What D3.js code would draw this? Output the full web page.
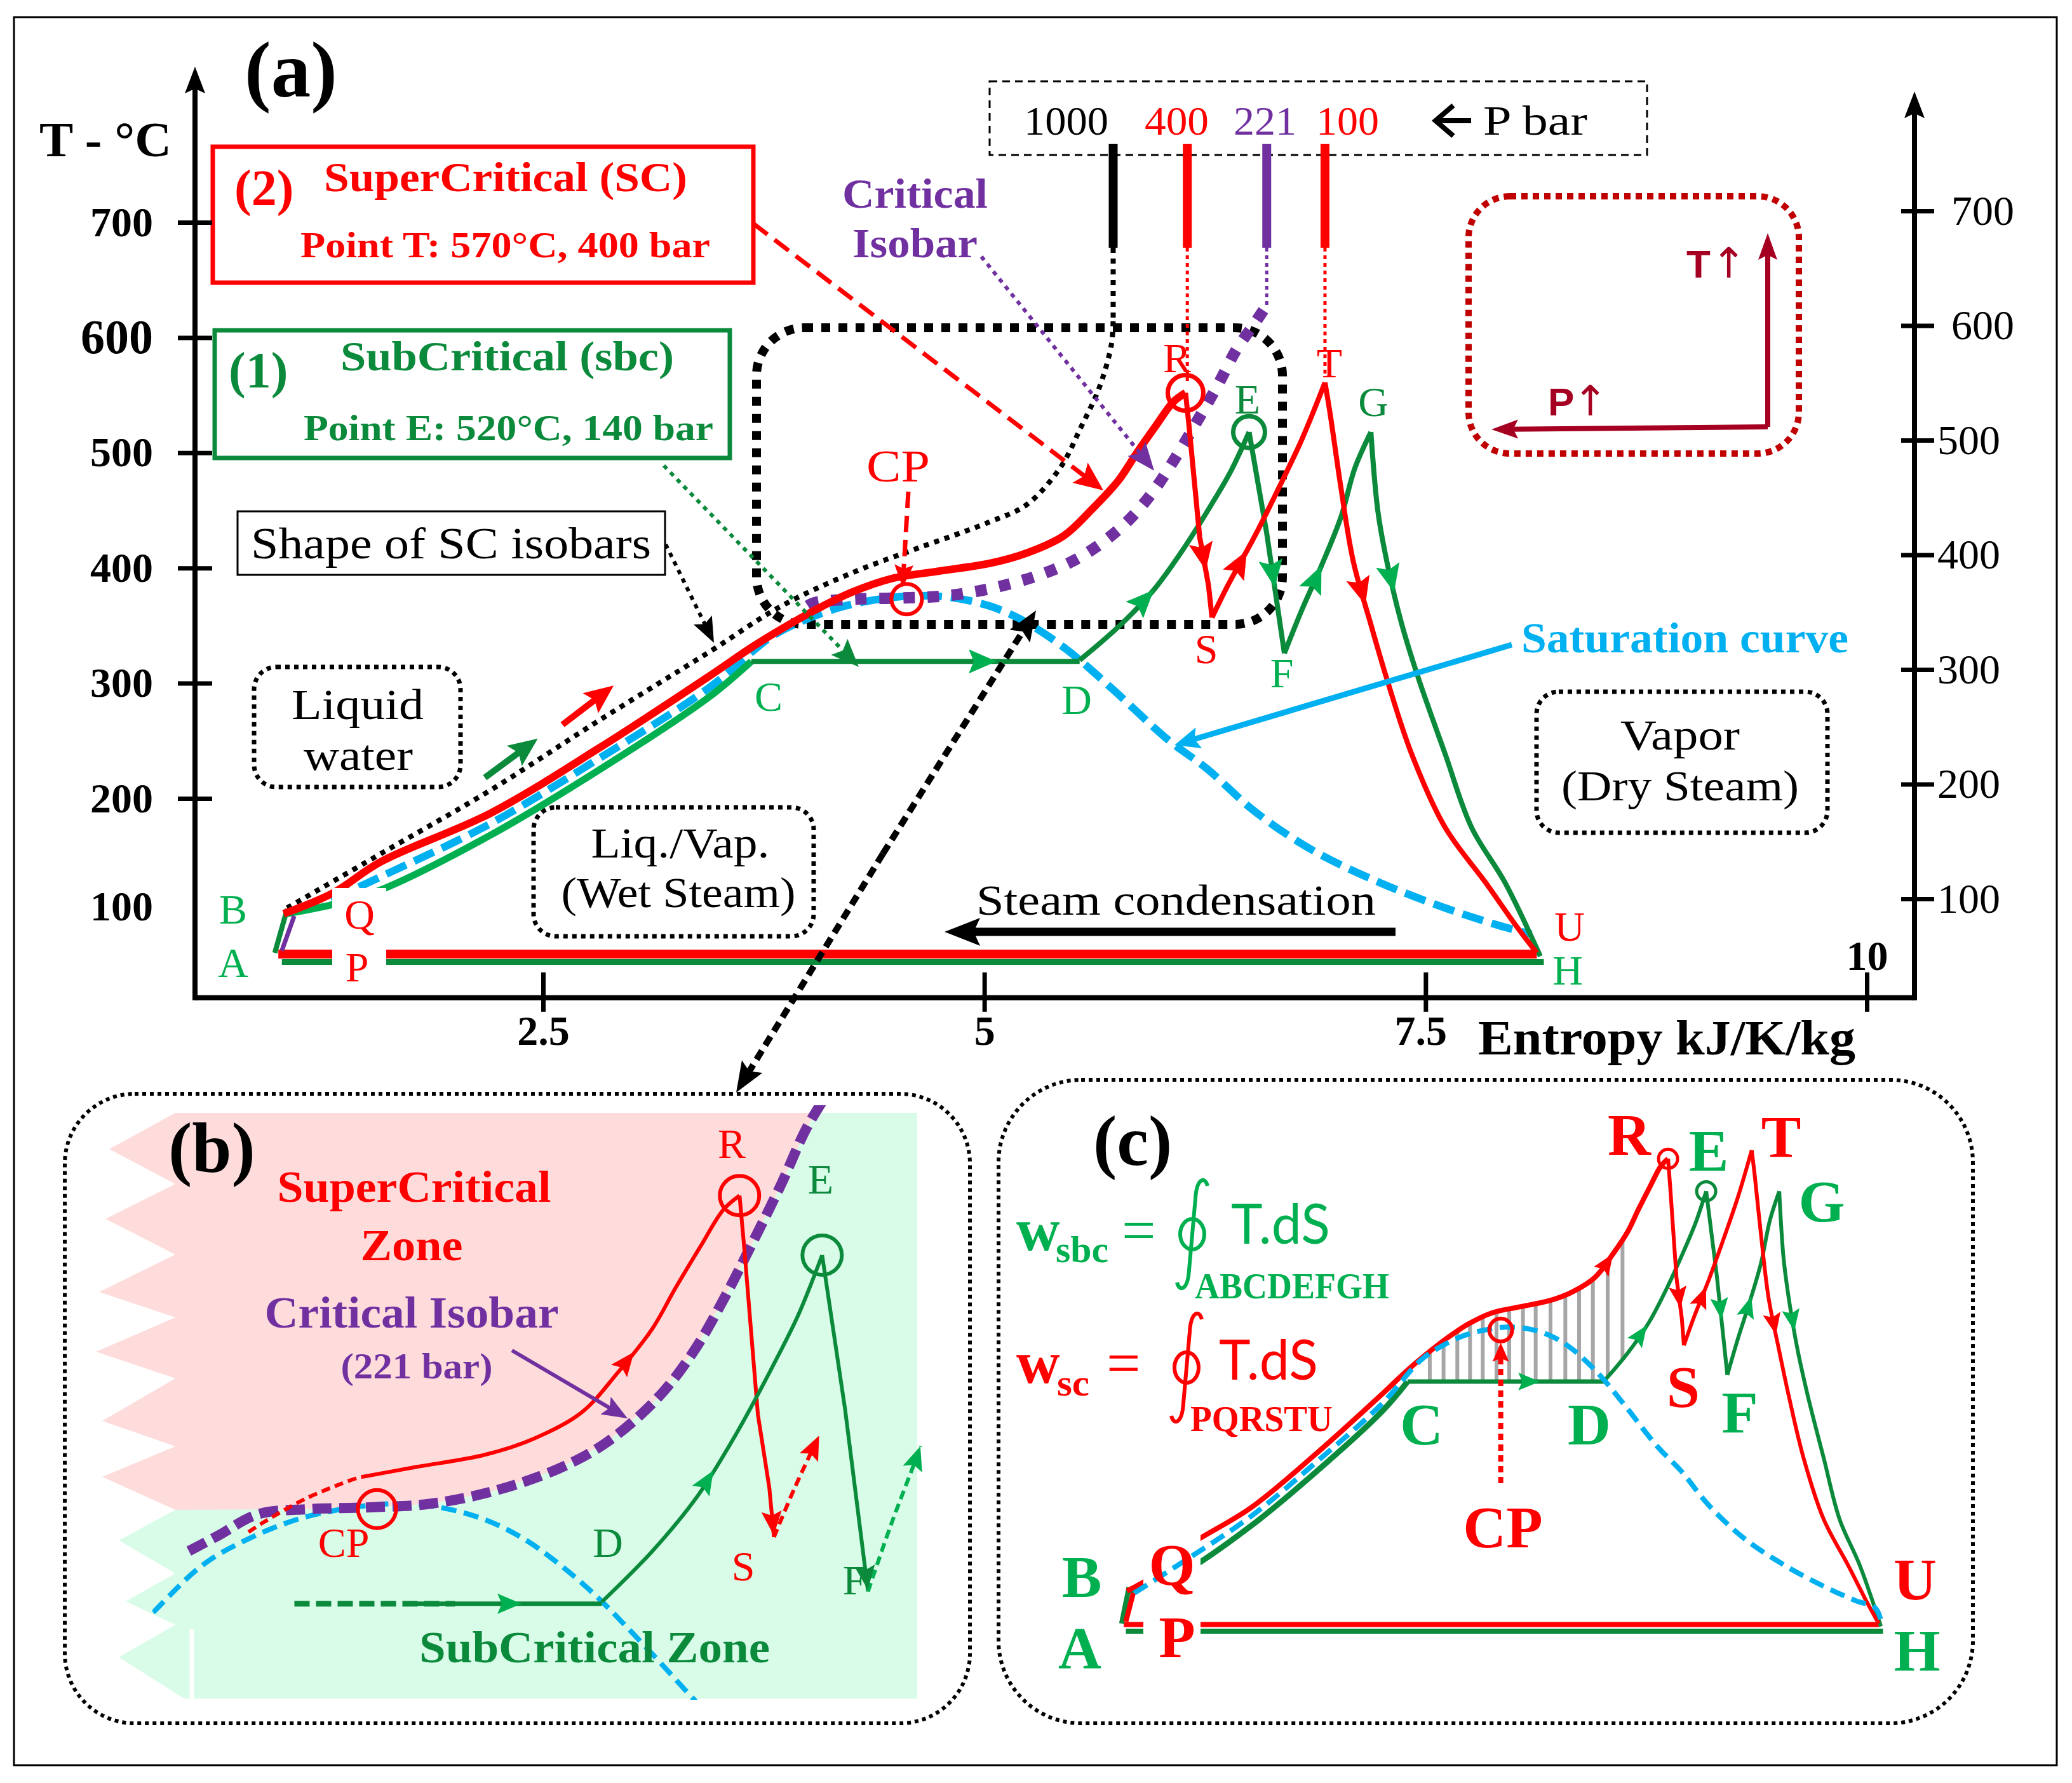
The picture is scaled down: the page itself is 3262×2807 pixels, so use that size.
<!DOCTYPE html>
<html>
<head>
<meta charset="utf-8">
<script src="https://cdn.jsdelivr.net/npm/d3@7"></script>
<style>
  body { margin: 0; background: #fff; }
</style>
</head>
<body>
<div id="chart"></div>
<script>
const W = 3262
const H = 2807

// ---- values: [entropy kJ/K/kg, temperature °C] ----
const xTicks = [2.5, 5, 7.5, 10]
const yTicksLeft = [100, 200, 300, 400, 500, 600, 700]
const yTicksRight = [100, 200, 300, 400, 500, 600, 700]
const axisBaseT = 27

const satCurve = [[1.10, 98], [1.37, 117], [1.58, 132], [2.20, 178], [2.82, 235], [3.44, 296], [3.80, 341], [4.00, 356], [4.21, 367], [4.41, 373], [4.62, 376], [4.83, 374], [5.03, 367], [5.20, 356], [5.34, 343], [5.51, 324], [5.74, 293], [6.04, 251], [6.26, 226], [6.53, 189], [6.86, 155], [7.24, 127], [7.61, 105], [7.91, 90], [8.10, 82]]
const critIsobar = [[3.74, 349], [3.87, 358], [4.04, 370], [4.27, 373], [4.53, 374], [4.79, 376], [5.06, 383], [5.35, 396], [5.56, 411], [5.78, 436], [5.94, 463], [6.08, 495], [6.20, 526], [6.32, 558], [6.43, 590], [6.53, 612], [6.60, 628]]
const isobar1000 = [[1.05, 105], [1.58, 152], [2.20, 207], [2.82, 268], [3.44, 327], [3.85, 367], [4.27, 397], [4.62, 417], [5.03, 440], [5.24, 455], [5.43, 487], [5.55, 523], [5.65, 556], [5.72, 594], [5.73, 617]]

// supercritical cycle (red) P-Q-R-S-T-U
const scPump = [[1.02, 68], [1.09, 98]]
const scQR = [[1.03, 100], [1.31, 118], [1.58, 145], [2.20, 187], [2.82, 244], [3.44, 306], [3.68, 331], [3.85, 347], [4.06, 365], [4.25, 379], [4.48, 391], [4.73, 397], [5.03, 404], [5.24, 413], [5.45, 428], [5.61, 451], [5.76, 476], [5.86, 499], [5.97, 523], [6.07, 544], [6.14, 552]]
const scRS = [[6.14, 552], [6.16, 523], [6.22, 427], [6.27, 385], [6.29, 357]]
const scST = [[6.29, 357], [6.38, 385], [6.53, 427], [6.67, 470], [6.80, 512], [6.93, 561]]
const scTU = [[6.93, 561], [6.96, 533], [7.02, 470], [7.09, 406], [7.19, 351], [7.28, 304], [7.42, 239], [7.61, 175], [7.84, 127], [8.02, 88], [8.13, 66]]
const scUP = [[8.13, 65], [1.00, 65]]

// subcritical cycle (green) A-B-C-D-E-F-G-H
const sbcPump = [[0.98, 66], [1.05, 104]]
const sbcBC = [[1.05, 100], [1.31, 108], [1.57, 120], [2.20, 168], [2.82, 225], [3.44, 288], [3.68, 319]]
const sbcCD = [[3.68, 319], [5.54, 319]]
const sbcDE = [[5.54, 320], [5.76, 349], [5.96, 381], [6.13, 417], [6.31, 461], [6.40, 485], [6.50, 518]]
const sbcEF = [[6.50, 518], [6.60, 430], [6.70, 326]]
const sbcFG = [[6.70, 326], [6.80, 364], [6.91, 402], [7.02, 444], [7.10, 487], [7.19, 518]]
const sbcGH = [[7.19, 518], [7.23, 449], [7.28, 406], [7.36, 354], [7.46, 304], [7.61, 239], [7.76, 175], [7.95, 127], [8.15, 63]]
const sbcHA = [[8.17, 58], [1.02, 58]]

const critPoint = [4.56, 373]
const pointR = [6.14, 552]
const pointE = [6.50, 518]

const pressureLabels = ['1000', '400', '221', '100']
const pressureS = [5.73, 6.15, 6.60, 6.93]
const pressureBarT = [678, 768]
const pressureJoinT = [617, 560, 628, 568]

// zoom view (b) and work view (c)
const zoomRedDash = [4.0, 4.5]
const zoomCDDash = [4.20, 4.90]
const zoomCDSolidFrom = 4.70
const hatchS = [3.89, 4.02, 4.15, 4.27, 4.39, 4.52, 4.64, 4.77, 4.89, 5.03, 5.17, 5.30, 5.43, 5.57, 5.71]

const RED = '#ff0000', GREEN = '#0b8a3c', LGREEN = '#00b050', CYAN = '#00b0f0', PURPLE = '#7030a0', WINE = '#a50021'
const SERIF = '"Liberation Serif", "DejaVu Serif", serif'

// ---- scales ----
const xA = d3.scaleLinear().domain([2.5, 10]).range([855, 2939])
const yA = d3.scaleLinear().domain([200, 700]).range([1257, 350])
const yR = d3.scaleLinear().domain([100, 700]).range([1415, 332])
const remap = (s, f) => d3.scaleLinear().domain(s.domain()).range(s.range().map(f))
const xB = remap(xA, v => 593 + (v - 1427) * 1.3)
const yB = remap(yA, v => 2377 + (v - 944) * 1.52)
const xC = remap(xA, v => 2216 + (v - 1183) * 0.6)
const yC = remap(yA, v => 2175 + (v - 1041) * 0.83)

const svg = d3.select('#chart').append('svg')
  .attr('width', W).attr('height', H)
  .attr('font-family', SERIF)
svg.append('rect').attr('width', W).attr('height', H).attr('fill', '#fff')
svg.append('rect').attr('x', 22).attr('y', 27).attr('width', 3216).attr('height', 2752)
  .attr('fill', 'none').attr('stroke', '#000').attr('stroke-width', 3)

// ---- helpers ----
let drawLine = (g, pts, sx, sy, o) => {
  const gen = d3.line().x(d => sx(d[0])).y(d => sy(d[1]))
    .curve(o.curve || d3.curveCatmullRom.alpha(0.5))
  return g.append('path').attr('d', gen(pts))
    .attr('fill', 'none').attr('stroke', o.color).attr('stroke-width', o.width)
    .attr('stroke-dasharray', o.dash || null).attr('stroke-linejoin', 'round')
}
let slice = (pts, key, lo, hi) => {
  const k = key === 'S' ? 0 : 1
  const out = []
  const lerp = (a, b, v) => {
    const t = (v - a[k]) / (b[k] - a[k])
    return [a[0] + t * (b[0] - a[0]), a[1] + t * (b[1] - a[1])]
  }
  pts.forEach((p, j) => {
    if (j > 0) {
      const q = pts[j - 1]
      const cuts = q[k] < p[k] ? [lo, hi] : [hi, lo]
      cuts.forEach(v => { if ((q[k] - v) * (p[k] - v) < 0) out.push(lerp(q, p, v)) })
    }
    if (p[k] >= lo && p[k] <= hi) out.push(p)
  })
  return out
}
let pointAt = (pts, key, value) => {
  const k = key === 'S' ? 0 : 1
  for (let i = 0; i < pts.length - 1; i++) {
    const a = pts[i], b = pts[i + 1]
    if (a[k] !== b[k] && (value - a[k]) * (value - b[k]) <= 0) {
      const t = (value - a[k]) / (b[k] - a[k])
      return { p: [a[0] + t * (b[0] - a[0]), a[1] + t * (b[1] - a[1])], a, b }
    }
  }
  return null
}
let arrowHead = (g, x, y, ang, len, wid, color) => {
  g.append('path').attr('d', `M0,0 L${-len},${-wid / 2} L${-len * 0.82},0 L${-len},${wid / 2} Z`)
    .attr('transform', `translate(${x},${y}) rotate(${ang * 180 / Math.PI})`)
    .attr('fill', color)
}
let flowArrow = (g, pts, key, value, sx, sy, len, wid, color) => {
  const r = pointAt(pts, key, value)
  if (!r) return
  const ang = Math.atan2(sy(r.b[1]) - sy(r.a[1]), sx(r.b[0]) - sx(r.a[0]))
  arrowHead(g, sx(r.p[0]), sy(r.p[1]), ang, len, wid, color)
}
let annot = (g, x1, y1, x2, y2, o) => {
  const ang = Math.atan2(y2 - y1, x2 - x1)
  const L = o.len || 40
  g.append('line').attr('x1', x1).attr('y1', y1)
    .attr('x2', x2 - Math.cos(ang) * L * 0.7).attr('y2', y2 - Math.sin(ang) * L * 0.7)
    .attr('stroke', o.color).attr('stroke-width', o.width)
    .attr('stroke-dasharray', o.dash || null)
  arrowHead(g, x2, y2, ang, L, o.wid || L * 0.85, o.color)
}
let box = (g, x, y, w, h, o) => g.append('rect')
  .attr('x', x).attr('y', y).attr('width', w).attr('height', h).attr('rx', o.rx || 0)
  .attr('fill', 'none').attr('stroke', o.color || '#000').attr('stroke-width', o.width || 6)
  .attr('stroke-dasharray', o.dash || null)
let txt = (g, s, x, y, o = {}) => {
  const t = g.append('text').attr('x', x).attr('y', y).text(s)
    .attr('font-size', o.size || 66).attr('fill', o.color || '#000')
    .attr('font-weight', o.weight || 'bold').attr('text-anchor', o.anchor || 'start')
  if (o.family) t.attr('font-family', o.family)
  if (o.len) t.attr('textLength', o.len).attr('lengthAdjust', 'spacingAndGlyphs')
  return t
}
let integralSign = (g, cx, top, bot, color) => {
  const h = bot - top
  g.append('path')
    .attr('d', `M${cx + 24},${top + 12} C${cx + 20},${top - 4} ${cx + 7},${top} ${cx + 5},${top + h * 0.18} L${cx - 5},${bot - h * 0.18} C${cx - 7},${bot} ${cx - 20},${bot + 4} ${cx - 24},${bot - 12}`)
    .attr('fill', 'none').attr('stroke', color).attr('stroke-width', 6)
  g.append('ellipse').attr('cx', cx).attr('cy', (top + bot) / 2).attr('rx', 19).attr('ry', 24)
    .attr('fill', 'none').attr('stroke', color).attr('stroke-width', 6)
}
const circ = (g, pt, sx, sy, r, color, w) => g.append('circle').attr('cx', sx(pt[0])).attr('cy', sy(pt[1])).attr('r', r)
  .attr('fill', 'none').attr('stroke', color).attr('stroke-width', w)

// =================== panel (a) ===================
const gA = svg.append('g')

// region boxes
box(gA, 1191, 516, 828, 467, { rx: 75, width: 14, dash: '14 13' })
box(gA, 400, 1050, 325, 189, { rx: 35, width: 7, dash: '7 7' })
box(gA, 840, 1271, 441, 203, { rx: 35, width: 7, dash: '7 7' })
box(gA, 2419, 1089, 458, 222, { rx: 35, width: 7, dash: '7 7' })
box(gA, 374, 805, 673, 100, { width: 3 })
box(gA, 1558, 128, 1035, 116, { width: 3, dash: '12 8' })
box(gA, 335, 231, 851, 214, { color: RED, width: 7 })
box(gA, 338, 520, 811, 201, { color: GREEN, width: 7 })
box(gA, 2312, 309, 520, 405, { rx: 65, color: '#c00000', width: 10, dash: '10 8' })

// condenser lines
drawLine(gA, sbcHA, xA, yA, { color: GREEN, width: 9, curve: d3.curveLinear })
drawLine(gA, scUP, xA, yA, { color: RED, width: 14, curve: d3.curveLinear })
// saturation dome
drawLine(gA, slice(satCurve, 'S', 1.3, 99), xA, yA, { color: CYAN, width: 12, dash: '34 14' })
// subcritical cycle
drawLine(gA, sbcPump, xA, yA, { color: GREEN, width: 8, curve: d3.curveLinear })
drawLine(gA, sbcBC, xA, yA, { color: LGREEN, width: 11 })
drawLine(gA, sbcCD, xA, yA, { color: GREEN, width: 8, curve: d3.curveLinear })
drawLine(gA, sbcDE, xA, yA, { color: GREEN, width: 8 })
drawLine(gA, sbcEF, xA, yA, { color: GREEN, width: 8, curve: d3.curveLinear })
drawLine(gA, sbcFG, xA, yA, { color: GREEN, width: 8 })
drawLine(gA, sbcGH, xA, yA, { color: GREEN, width: 8 })
// critical isobar and 1000 bar isobar
drawLine(gA, slice(critIsobar, 'S', 4.0, 99), xA, yA, { color: PURPLE, width: 18, dash: '18 20' })
drawLine(gA, scPump, xA, yA, { color: PURPLE, width: 7, curve: d3.curveLinear })
drawLine(gA, isobar1000, xA, yA, { color: '#000', width: 8, dash: '8 9' })
// supercritical cycle
drawLine(gA, scQR, xA, yA, { color: RED, width: 12 })
drawLine(gA, scRS, xA, yA, { color: RED, width: 8, curve: d3.curveLinear })
drawLine(gA, scST, xA, yA, { color: RED, width: 8 })
drawLine(gA, scTU, xA, yA, { color: RED, width: 8 })

// pressure markers
const barColors = ['#000', RED, PURPLE, RED]
pressureS.forEach((s, i) => {
  gA.append('line').attr('x1', xA(s)).attr('x2', xA(s))
    .attr('y1', yA(pressureBarT[0])).attr('y2', yA(pressureJoinT[i]))
    .attr('stroke', barColors[i]).attr('stroke-width', i === 0 ? 8 : 5).attr('stroke-dasharray', i === 0 ? '8 9' : '6 6')
  gA.append('line').attr('x1', xA(s)).attr('x2', xA(s))
    .attr('y1', yA(pressureBarT[0])).attr('y2', yA(pressureBarT[1]))
    .attr('stroke', barColors[i]).attr('stroke-width', 14)
})
const pressX = [1612, 1802, 1942, 2072]
const pressW = [133, 101, 99, 99]
pressureLabels.forEach((p, i) => txt(gA, p, pressX[i], 212, { size: 64, color: barColors[i], weight: 'normal', len: pressW[i] }))
gA.append('path').attr('d', 'M2316,190 L2262,190 M2288,166 L2260,190 L2288,214')
  .attr('fill', 'none').attr('stroke', '#000').attr('stroke-width', 8)
txt(gA, 'P bar', 2335, 212, { size: 66, weight: 'normal', len: 164 })

// circles
circ(gA, pointR, xA, yA, 28, RED, 7)
circ(gA, pointE, xA, yA, 25, GREEN, 7)
circ(gA, critPoint, xA, yA, 24, RED, 6)

// white backing of Q / P labels
gA.append('rect').attr('x', 523).attr('y', 1398).attr('width', 85).attr('height', 150).attr('fill', '#fff')

// flow direction arrows
const flowA = [
  [scRS, 'T', 398, RED], [scST, 'T', 415, RED], [scTU, 'T', 368, RED],
  [sbcCD, 'S', 5.07, LGREEN], [sbcDE, 'S', 5.96, LGREEN], [sbcEF, 'T', 383, LGREEN],
  [sbcFG, 'T', 402, LGREEN], [sbcGH, 'T', 379, LGREEN]
]
flowA.forEach(f => flowArrow(gA, f[0], f[1], f[2], xA, yA, 44, 38, f[3]))
annot(gA, xA(2.61), yA(264), xA(2.90), yA(298), { color: RED, width: 10, len: 46, wid: 40 })
annot(gA, xA(2.17), yA(218), xA(2.47), yA(252), { color: GREEN, width: 10, len: 46, wid: 40 })

// annotation arrows
annot(gA, 1186, 352, 1737, 772, { color: RED, width: 7, dash: '28 14', len: 46, wid: 40 })
annot(gA, 1545, 404, 1817, 741, { color: PURPLE, width: 6, dash: '7 8', len: 44, wid: 36 })
annot(gA, 1045, 733, 1352, 1050, { color: GREEN, width: 6, dash: '7 8', len: 44, wid: 36 })
annot(gA, 1048, 857, 1124, 1012, { color: '#000', width: 6, dash: '7 8', len: 40, wid: 32 })
annot(gA, 2380, 1015, 1849, 1173, { color: CYAN, width: 9, len: 40, wid: 34 })
annot(gA, 1430, 774, 1421, 925, { color: RED, width: 7, dash: '26 12', len: 36, wid: 30 })
annot(gA, 2197, 1467, 1487, 1467, { color: '#000', width: 13, len: 56, wid: 44 })
annot(gA, 1390, 1344, 1159, 1720, { color: '#000', width: 10, dash: '16 10', len: 48, wid: 38 })
annot(gA, 1390, 1344, 1631, 961, { color: '#000', width: 10, dash: '16 10', len: 48, wid: 38 })
// P / T direction key
annot(gA, 2783, 672, 2783, 367, { color: WINE, width: 8, len: 42, wid: 30 })
annot(gA, 2783, 672, 2348, 676, { color: WINE, width: 8, len: 42, wid: 30 })
txt(gA, 'P', 2437, 654, { size: 62, color: WINE, family: '"Liberation Sans", Arial, sans-serif' })
txt(gA, '↑', 2476, 654, { size: 66, color: WINE, weight: 'normal', family: '"DejaVu Sans", sans-serif' })
txt(gA, 'T', 2655, 437, { size: 62, color: WINE, family: '"Liberation Sans", Arial, sans-serif' })
txt(gA, '↑', 2694, 437, { size: 66, color: WINE, weight: 'normal', family: '"DejaVu Sans", sans-serif' })

// texts
txt(gA, '(a)', 385, 152, { size: 125 })
txt(gA, 'T - °C', 62, 246, { size: 78, len: 208 })
txt(gA, '(2)', 369, 323, { size: 80, color: RED })
txt(gA, 'SuperCritical (SC)', 510, 301, { size: 66, color: RED, len: 572 })
txt(gA, 'Point T: 570°C, 400 bar', 473, 405, { size: 58, color: RED, len: 645 })
txt(gA, '(1)', 360, 610, { size: 80, color: GREEN })
txt(gA, 'SubCritical (sbc)', 536, 583, { size: 66, color: GREEN, len: 525 })
txt(gA, 'Point E: 520°C, 140 bar', 478, 693, { size: 58, color: GREEN, len: 645 })
txt(gA, 'Shape of SC isobars', 395, 879, { size: 70, weight: 'normal', len: 630 })
txt(gA, 'Critical', 1326, 327, { size: 66, color: PURPLE, len: 229 })
txt(gA, 'Isobar', 1342, 405, { size: 66, color: PURPLE, len: 197 })
txt(gA, 'CP', 1364, 758, { size: 72, color: RED, weight: 'normal', len: 100 })
txt(gA, 'Liquid', 563, 1132, { size: 68, weight: 'normal', anchor: 'middle', len: 208 })
txt(gA, 'water', 564, 1212, { size: 68, weight: 'normal', anchor: 'middle', len: 172 })
txt(gA, 'Liq./Vap.', 1071, 1350, { size: 68, weight: 'normal', anchor: 'middle', len: 281 })
txt(gA, '(Wet Steam)', 1068, 1428, { size: 68, weight: 'normal', anchor: 'middle', len: 369 })
txt(gA, 'Vapor', 2645, 1180, { size: 68, weight: 'normal', anchor: 'middle', len: 188 })
txt(gA, '(Dry Steam)', 2645, 1260, { size: 68, weight: 'normal', anchor: 'middle', len: 374 })
txt(gA, 'Steam condensation', 1537, 1440, { size: 68, weight: 'normal', len: 629 })
txt(gA, 'Saturation curve', 2395, 1027, { size: 68, color: CYAN, len: 515 })
txt(gA, 'Entropy kJ/K/kg', 2327, 1660, { size: 78, len: 594 })

const labA = [
  ['R', 1853, 586, RED], ['E', 1964, 651, GREEN], ['T', 2093, 594, RED], ['G', 2162, 655, GREEN],
  ['S', 1899, 1044, RED], ['F', 2018, 1082, LGREEN], ['C', 1210, 1119, LGREEN], ['D', 1695, 1124, LGREEN],
  ['B', 367, 1454, LGREEN], ['A', 367, 1538, LGREEN], ['Q', 566, 1462, RED], ['P', 562, 1545, RED],
  ['U', 2471, 1481, RED], ['H', 2468, 1550, LGREEN]
]
labA.forEach(l => txt(gA, l[0], l[1], l[2], { size: 66, color: l[3], weight: 'normal', anchor: 'middle' }))

// axes
const y0 = yA(axisBaseT)
const axisStyle = g => g.attr('font-family', SERIF).attr('font-size', 66).attr('font-weight', 'bold')
const xAxisG = gA.append('g').attr('transform', `translate(0,${y0})`)
  .call(d3.axisBottom(xA).tickValues(xTicks).tickSizeOuter(0).tickFormat(d => d))
  .call(axisStyle)
xAxisG.select('.domain').remove()
xAxisG.selectAll('.tick line').attr('y1', -40).attr('y2', 22).attr('stroke-width', 7)
xAxisG.selectAll('.tick text').attr('dy', 0).attr('y', d => d === 10 ? -44 : 74)
  .attr('dx', d => d === 7.5 ? -8 : 0)

const yAxisG = gA.append('g').attr('transform', 'translate(307,0)')
  .call(d3.axisLeft(yA).tickValues(yTicksLeft).tickSizeOuter(0).tickFormat(d => d))
  .call(axisStyle)
yAxisG.select('.domain').remove()
yAxisG.selectAll('.tick line').attr('x1', -27).attr('x2', 27).attr('stroke-width', 7)
  .attr('display', d => d === 100 ? 'none' : null)
yAxisG.selectAll('.tick text').attr('x', -66).attr('font-size', d => d === 600 ? 76 : 66)
  .attr('dy', d => d === 100 ? '0.15em' : '0.32em')

const yAxisR = gA.append('g').attr('transform', 'translate(3014,0)')
  .call(d3.axisRight(yR).tickValues(yTicksRight).tickSizeOuter(0).tickFormat(d => d))
  .call(axisStyle)
yAxisR.select('.domain').remove()
yAxisR.selectAll('.tick line').attr('x1', -21).attr('x2', 31).attr('stroke-width', 7)
yAxisR.selectAll('.tick text').attr('x', d => d >= 600 ? 58 : 36).attr('font-weight', 'normal')

gA.append('line').attr('x1', 307).attr('x2', 3014).attr('y1', y0).attr('y2', y0).attr('stroke', '#000').attr('stroke-width', 8)
annot(gA, 307, y0 + 4, 307, 105, { color: '#000', width: 8, len: 42, wid: 32 })
annot(gA, 3014, y0 + 4, 3014, 144, { color: '#000', width: 8, len: 42, wid: 32 })

// =================== panel (b) ===================
const gB = svg.append('g')
const greenZone = [[276, 2377], [187, 2425], [276, 2477], [198, 2521], [276, 2558], [187, 2609], [290, 2674], [1444, 2674], [1444, 1752], [276, 1752]]
gB.append('path').attr('d', d3.line()(greenZone) + 'Z').attr('fill', '#d8fce8')
const iso = slice(critIsobar, 'S', 4.27, 99).map(d => [xB(d[0]), yB(d[1])])
const pinkZone = [[276, 1752], [172, 1809], [276, 1864], [166, 1919], [276, 1975], [156, 2034], [276, 2074], [151, 2128], [276, 2170], [161, 2237], [276, 2277], [161, 2325], [276, 2377]]
for (let i = 0; i < iso.length; i++) {
  if (iso[i][1] >= 1752) pinkZone.push(iso[i])
  else {
    const a = iso[i - 1], b = iso[i], t = (1752 - a[1]) / (b[1] - a[1])
    pinkZone.push([a[0] + t * (b[0] - a[0]), 1752])
    break
  }
}
gB.append('path').attr('d', d3.line()(pinkZone) + 'Z').attr('fill', '#ffdcdc')
gB.append('line').attr('x1', 302).attr('x2', 302).attr('y1', 2565).attr('y2', 2674).attr('stroke', '#fff').attr('stroke-width', 7)
box(gB, 102, 1722, 1425, 991, { rx: 110, width: 6, dash: '6 6' })

svg.append('clipPath').attr('id', 'clipB').append('rect')
  .attr('x', 240).attr('y', 1740).attr('width', 1230).attr('height', 936)
const cB = gB.append('g').attr('clip-path', 'url(#clipB)')
drawLine(cB, satCurve, xB, yB, { color: CYAN, width: 8, dash: '24 12' })
drawLine(cB, critIsobar, xB, yB, { color: PURPLE, width: 16, dash: '30 12' })
drawLine(cB, slice(scQR, 'S', zoomRedDash[0], zoomRedDash[1]), xB, yB, { color: RED, width: 6, dash: '14 8' })
drawLine(cB, slice(scQR, 'S', zoomRedDash[1], 99), xB, yB, { color: RED, width: 6 })
drawLine(cB, scRS, xB, yB, { color: RED, width: 6, curve: d3.curveLinear })
drawLine(cB, slice(scST, 'T', 0, 415), xB, yB, { color: RED, width: 6, dash: '14 8' })
drawLine(cB, slice(sbcCD, 'S', zoomCDDash[0], zoomCDDash[1]), xB, yB, { color: GREEN, width: 9, dash: '24 10', curve: d3.curveLinear })
drawLine(cB, slice(sbcCD, 'S', zoomCDSolidFrom, 99), xB, yB, { color: GREEN, width: 7, curve: d3.curveLinear })
drawLine(cB, sbcDE, xB, yB, { color: GREEN, width: 6 })
drawLine(cB, sbcEF, xB, yB, { color: GREEN, width: 6, curve: d3.curveLinear })
drawLine(cB, slice(sbcFG, 'T', 0, 409), xB, yB, { color: LGREEN, width: 6, dash: '14 8' })
circ(gB, pointR, xB, yB, 31, RED, 6)
circ(gB, pointE, xB, yB, 31, GREEN, 6)
circ(gB, critPoint, xB, yB, 30, RED, 6)
const flowB = [
  [scQR, 'S', 5.68, RED], [sbcCD, 'S', 5.19, LGREEN], [sbcDE, 'T', 395, LGREEN],
  [scRS, 'T', 358, RED], [sbcEF, 'T', 327, GREEN], [scST, 'T', 414.9, RED], [sbcFG, 'T', 408.9, LGREEN]
]
flowB.forEach(f => flowArrow(gB, f[0], f[1], f[2], xB, yB, 38, 32, f[3]))
annot(gB, 806, 2126, 988, 2233, { color: PURPLE, width: 6, len: 40, wid: 32 })

txt(gB, '(b)', 265, 1845, { size: 112 })
txt(gB, 'SuperCritical', 652, 1892, { size: 70, color: RED, anchor: 'middle', len: 431 })
txt(gB, 'Zone', 648, 1984, { size: 70, color: RED, anchor: 'middle', len: 161 })
txt(gB, 'Critical Isobar', 648, 2090, { size: 70, color: PURPLE, anchor: 'middle', len: 463 })
txt(gB, '(221 bar)', 656, 2170, { size: 56, color: PURPLE, anchor: 'middle', len: 239 })
txt(gB, 'SubCritical Zone', 660, 2617, { size: 70, color: GREEN, len: 552 })
const labB = [['R', 1152, 1823, RED], ['E', 1292, 1879, GREEN], ['CP', 541, 2451, RED], ['D', 957, 2451, GREEN], ['S', 1170, 2488, RED], ['F', 1345, 2510, GREEN]]
labB.forEach(l => txt(gB, l[0], l[1], l[2], { size: 66, color: l[3], weight: 'normal', anchor: 'middle' }))

// =================== panel (c) ===================
const gC = svg.append('g')
box(gC, 1572, 1700, 1534, 1013, { rx: 130, width: 6, dash: '6 6' })
const interp = (pts, s) => { const r = pointAt(pts, 'S', s); return r ? r.p[1] : null }
hatchS.forEach(s => {
  const top = interp(scQR, s)
  const bot = s <= sbcCD[1][0] ? sbcCD[0][1] : interp(sbcDE, s)
  gC.append('line').attr('x1', xC(s)).attr('x2', xC(s)).attr('y1', yC(top)).attr('y2', yC(bot))
    .attr('stroke', '#a6a6a6').attr('stroke-width', 6)
})
drawLine(gC, sbcHA, xC, yC, { color: GREEN, width: 8, curve: d3.curveLinear })
drawLine(gC, scUP, xC, yC, { color: RED, width: 8, curve: d3.curveLinear })
drawLine(gC, sbcPump, xC, yC, { color: GREEN, width: 8, curve: d3.curveLinear })
drawLine(gC, sbcBC, xC, yC, { color: GREEN, width: 9 })
drawLine(gC, sbcCD, xC, yC, { color: GREEN, width: 7, curve: d3.curveLinear })
drawLine(gC, sbcDE, xC, yC, { color: GREEN, width: 6 })
drawLine(gC, sbcEF, xC, yC, { color: GREEN, width: 6, curve: d3.curveLinear })
drawLine(gC, sbcFG, xC, yC, { color: GREEN, width: 6 })
drawLine(gC, sbcGH, xC, yC, { color: GREEN, width: 6 })
drawLine(gC, scPump, xC, yC, { color: RED, width: 8, curve: d3.curveLinear })
drawLine(gC, scQR, xC, yC, { color: RED, width: 8 })
drawLine(gC, scRS, xC, yC, { color: RED, width: 6, curve: d3.curveLinear })
drawLine(gC, scST, xC, yC, { color: RED, width: 6 })
drawLine(gC, scTU, xC, yC, { color: RED, width: 6 })
gC.append('rect').attr('x', 1800).attr('y', 2415).attr('width', 90).attr('height', 205).attr('fill', '#fff')
drawLine(gC, satCurve.concat([[8.16, 64]]), xC, yC, { color: CYAN, width: 8, dash: '24 12' })
circ(gC, pointR, xC, yC, 15, RED, 5)
circ(gC, pointE, xC, yC, 15, GREEN, 5)
circ(gC, critPoint, xC, yC, 18, RED, 6)
annot(gC, xC(critPoint[0]), 2335, xC(critPoint[0]), yC(critPoint[1]) + 20, { color: RED, width: 8, dash: '10 7', len: 30, wid: 26 })
const flowC = [
  [scQR, 'S', 5.62, RED], [sbcCD, 'S', 4.93, LGREEN], [sbcDE, 'S', 5.94, LGREEN],
  [scRS, 'T', 396, RED], [scST, 'T', 418, RED], [sbcEF, 'T', 384, LGREEN],
  [sbcFG, 'T', 408, LGREEN], [scTU, 'T', 368, RED], [sbcGH, 'T', 372, LGREEN]
]
flowC.forEach(f => flowArrow(gC, f[0], f[1], f[2], xC, yC, 34, 28, f[3]))

txt(gC, '(c)', 1721, 1834, { size: 112 })
const labC = [['R', 2565, 1818, RED], ['E', 2690, 1843, LGREEN], ['T', 2804, 1821, RED], ['G', 2868, 1923, LGREEN], ['S', 2650, 2215, RED], ['F', 2739, 2255, LGREEN], ['C', 2238, 2274, LGREEN], ['D', 2502, 2274, LGREEN], ['CP', 2366, 2436, RED], ['B', 1703, 2514, LGREEN], ['Q', 1845, 2495, RED], ['A', 1700, 2626, LGREEN], ['P', 1853, 2609, RED], ['U', 3015, 2518, RED], ['H', 3018, 2630, LGREEN]]
labC.forEach(l => txt(gC, l[0], l[1], l[2], { size: 94, color: l[3], anchor: 'middle' }))

// work integrals
txt(gC, 'w', 1600, 1968, { size: 95, color: LGREEN })
txt(gC, 'sbc', 1662, 1987, { size: 60, color: LGREEN, len: 83 })
txt(gC, '=', 1766, 1969, { size: 95, color: LGREEN, weight: 'normal' })
integralSign(gC, 1877, 1855, 2031, LGREEN)
txt(gC, 'T.dS', 1938, 1958, { size: 88, color: LGREEN, weight: 'normal', family: 'Lato, "Open Sans", sans-serif', len: 156 })
txt(gC, 'ABCDEFGH', 1881, 2044, { size: 58, color: LGREEN, len: 306 })
txt(gC, 'w', 1600, 2177, { size: 95, color: RED })
txt(gC, 'sc', 1664, 2197, { size: 60, color: RED, len: 51 })
txt(gC, '=', 1742, 2178, { size: 95, color: RED, weight: 'normal' })
integralSign(gC, 1868, 2065, 2241, RED)
txt(gC, 'T.dS', 1919, 2172, { size: 88, color: RED, weight: 'normal', family: 'Lato, "Open Sans", sans-serif', len: 156 })
txt(gC, 'PQRSTU', 1874, 2253, { size: 58, color: RED, len: 224 })
</script>
</body>
</html>
